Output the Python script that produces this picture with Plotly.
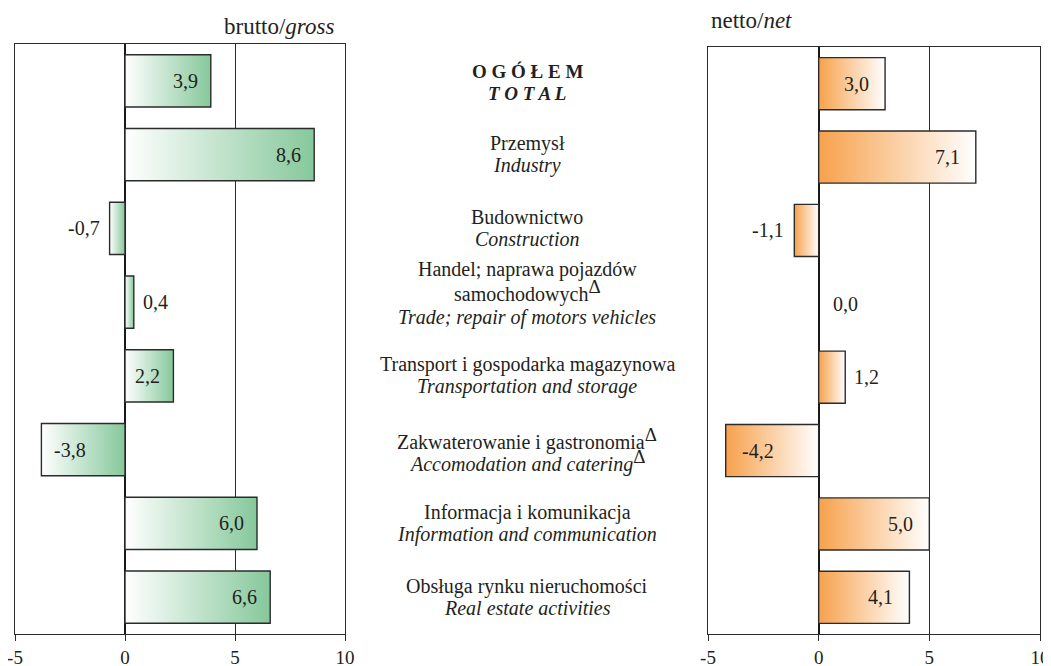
import plotly.graph_objects as go

DELTA = "<sup><span style='font-size:19px'>Δ</span></sup>"
categories_pl = [
    ["<b>O G Ó Ł E M</b>"],
    ["Przemysł"],
    ["Budownictwo"],
    ["Handel; naprawa pojazdów", "samochodowych" + DELTA],
    ["Transport i gospodarka magazynowa"],
    ["Zakwaterowanie i gastronomia" + DELTA],
    ["Informacja i komunikacja"],
    ["Obsługa rynku nieruchomości"],
]
categories_en = [
    "<b><i>T O T A L</i></b>",
    "<i>Industry</i>",
    "<i>Construction</i>",
    "<i>Trade; repair of motors vehicles</i>",
    "<i>Transportation and storage</i>",
    "<i>Accomodation and catering</i>" + DELTA,
    "<i>Information and communication</i>",
    "<i>Real estate activities</i>",
]
gross = [3.9, 8.6, -0.7, 0.4, 2.2, -3.8, 6.0, 6.6]
net = [3.0, 7.1, -1.1, 0.0, 1.2, -4.2, 5.0, 4.1]
tick_vals = [-5, 0, 5, 10]
tick_text = ["-5", "0", "5", "10"]

W, H = 1051, 666
OX, OY = 8, 8  # page body margin offset


def fx(px):
    return (px - OX) / W


def fy(py):
    return 1 - (py - OY) / H


FONT = "Liberation Serif"
TXT = "#231f20"
GREEN = "#86c89b"
ORANGE = "#f7a14c"
HALF = 0.355
LINE = 22

fig = go.Figure()


def fmt(v):
    return f"{v:.1f}".replace(".", ",")


def add_panel(values, xa, ya, scale, pad_in):
    for i, v in enumerate(values):
        if v != 0:
            fig.add_trace(go.Scatter(
                x=[0, v, v, 0, 0],
                y=[i - HALF, i - HALF, i + HALF, i + HALF, i - HALF],
                mode="lines", fill="toself",
                fillgradient=dict(type="horizontal", colorscale=scale),
                line=dict(color="#2b2b2b", width=1.4),
                xaxis=xa, yaxis=ya, showlegend=False, hoverinfo="skip",
            ))
        if abs(v) >= 2:
            anchor = "right" if v > 0 else "left"
            shift = -pad_in if v > 0 else pad_in
        elif v > 0:
            anchor, shift = "left", 7
        elif v < 0:
            anchor, shift = "right", -8
        else:
            anchor, shift = "left", 12
        fig.add_annotation(
            x=v, y=i, xref=xa, yref=ya, text=fmt(v), showarrow=False,
            xanchor=anchor, xshift=shift, yanchor="middle",
            font=dict(family=FONT, size=20, color=TXT),
        )


add_panel(gross, "x", "y", [[0, "white"], [1, GREEN]], 11)
add_panel(net, "x2", "y2", [[0, ORANGE], [1, "white"]], 14)

for i, (pl_lines, en) in enumerate(zip(categories_pl, categories_en)):
    n = len(pl_lines)
    offsets = [-11 - LINE * (n - 1 - k) for k in range(n)]
    en_off = 11 + (4 if n > 1 else 0)
    size = 20 if i > 0 else 19
    for txt, off in list(zip(pl_lines, offsets)) + [(en, en_off)]:
        fig.add_annotation(
            x=fx(527), xref="paper", y=i, yref="y", text=txt,
            showarrow=False, xanchor="center", yanchor="middle",
            yshift=-off - (2 if i == 0 else 0),
            font=dict(family=FONT, size=size, color=TXT),
        )

fig.add_annotation(x=fx(336), y=fy(27), xref="paper", yref="paper",
                   text="brutto/<i>gross</i>", showarrow=False,
                   xanchor="right", yanchor="middle",
                   font=dict(family=FONT, size=23, color=TXT))
fig.add_annotation(x=fx(709), y=fy(20), xref="paper", yref="paper",
                   text="netto/<i>net</i>", showarrow=False,
                   xanchor="left", yanchor="middle",
                   font=dict(family=FONT, size=23, color=TXT))

xcommon = dict(range=[-5, 10], tickvals=tick_vals, ticktext=tick_text,
               showline=True, mirror=True, linecolor="#2b2b2b", linewidth=1.2,
               ticks="outside", ticklen=6, tickcolor="#2b2b2b",
               showgrid=True, gridcolor="#2b2b2b", gridwidth=1,
               zeroline=True, zerolinecolor="#1a1a1a", zerolinewidth=1.6,
               automargin=False, ticklabeloverflow="allow",
               tickfont=dict(family=FONT, size=19, color=TXT), fixedrange=True)
ycommon = dict(range=[len(gross) - 0.5, -0.5], showline=True, mirror=True,
               linecolor="#2b2b2b", linewidth=1.2, showgrid=False,
               zeroline=False, showticklabels=False, ticks="",
               automargin=False, fixedrange=True)

fig.update_layout(
    width=W, height=H,
    margin=dict(l=0, r=0, t=0, b=0, pad=0, autoexpand=False),
    paper_bgcolor="white", plot_bgcolor="white",
    xaxis=dict(domain=[fx(15), fx(345)], anchor="y", **xcommon),
    yaxis=dict(domain=[fy(634), fy(44)], anchor="x", **ycommon),
    xaxis2=dict(domain=[fx(708), fx(1040)], anchor="y2", **xcommon),
    yaxis2=dict(domain=[fy(634), fy(47)], anchor="x2", **ycommon),
)

fig.write_html("out.html")
